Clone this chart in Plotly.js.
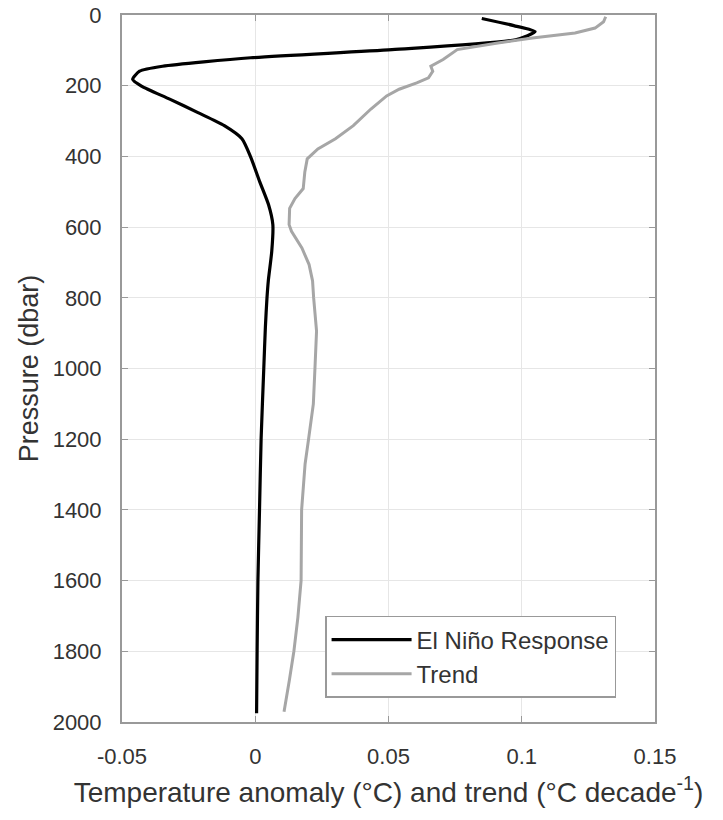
<!DOCTYPE html>
<html>
<head>
<meta charset="utf-8">
<script src="https://cdn.plot.ly/plotly-3.0.1.min.js"></script>
<style>html,body{margin:0;padding:0;background:#fff;}#chart{width:723px;height:820px;}</style>
</head>
<body>
<div id="chart"></div>
<script>
// El Niño response profile
const ninoPressure = [10, 30, 47, 70, 98, 121, 145, 159, 182, 201, 238, 276, 313, 350, 402, 472, 537, 593, 668, 752, 800, 883, 1000, 1200, 1400, 1600, 1800, 1975];
const ninoTemp     = [0.085, 0.097, 0.105, 0.0977, 0.0513, -0.0017, -0.0348, -0.0434, -0.046, -0.0427, -0.0321, -0.0215, -0.0116, -0.005, -0.0017, 0.0017, 0.005, 0.0066, 0.0062, 0.0049, 0.0044, 0.0038, 0.0032, 0.0022, 0.0016, 0.001, 0.0007, 0.0005];
// Trend profile
const trendPressure = [5, 19, 37, 51, 65, 79, 98, 112, 126, 145, 159, 178, 192, 210, 229, 266, 313, 350, 379, 407, 444, 491, 519, 547, 593, 612, 659, 706, 752, 799, 894, 1000, 1100, 1200, 1270, 1400, 1600, 1704, 1800, 1882, 1971];
const trendTemp     = [0.1315, 0.1307, 0.1275, 0.120, 0.104, 0.091, 0.0758, 0.073, 0.0705, 0.0659, 0.0666, 0.065, 0.0606, 0.054, 0.0493, 0.0434, 0.0368, 0.0301, 0.0235, 0.0195, 0.0186, 0.018, 0.0149, 0.0129, 0.0127, 0.0136, 0.0175, 0.0202, 0.0215, 0.0219, 0.023, 0.0224, 0.0218, 0.020, 0.0187, 0.0174, 0.0172, 0.016, 0.0145, 0.0128, 0.0108];
const xTicks = [-0.05, 0, 0.05, 0.1, 0.15];
const xTickText = ['-0.05', '0', '0.05', '0.1', '0.15'];
const yTicks = [0, 200, 400, 600, 800, 1000, 1200, 1400, 1600, 1800, 2000];
const seriesNames = ['El Niño Response', 'Trend'];

const font = 'Liberation Sans, Arial, Helvetica, sans-serif';
const traces = [
  {x: ninoTemp, y: ninoPressure, name: seriesNames[0], mode: 'lines', line: {color: '#000000', width: 3.2, shape: 'spline', smoothing: 0.6}},
  {x: trendTemp, y: trendPressure, name: seriesNames[1], mode: 'lines', line: {color: '#a6a6a6', width: 3}}
];
const axisCommon = {
  showline: true, linecolor: '#999999', linewidth: 2, mirror: 'allticks',
  ticks: 'inside', ticklen: 6, tickcolor: '#999999', tickwidth: 1,
  showgrid: true, gridcolor: '#e6e6e6', gridwidth: 1, zeroline: false,
  tickfont: {family: font, size: 22, color: '#333333'}
};
const layout = {
  width: 723, height: 820,
  margin: {l: 122, r: 68, t: 15, b: 98},
  paper_bgcolor: '#ffffff', plot_bgcolor: '#ffffff',
  showlegend: true,
  font: {family: font, color: '#333333'},
  xaxis: Object.assign({}, axisCommon, {
    range: [-0.05, 0.15], tickvals: xTicks, ticktext: xTickText, ticklabelstandoff: 14,
    title: {text: 'Temperature anomaly (°C) and trend (°C decade<sup>-1</sup>)', font: {family: font, size: 28, color: '#333333'}, standoff: 14}
  }),
  yaxis: Object.assign({}, axisCommon, {
    range: [2000, 0], tickvals: yTicks, ticklabelstandoff: 14,
    title: {text: 'Pressure (dbar)', font: {family: font, size: 27, color: '#333333'}, standoff: 6}
  }),
  legend: {
    x: 0.381, y: 0.034, xanchor: 'left', yanchor: 'bottom',
    bgcolor: '#ffffff', bordercolor: '#999999', borderwidth: 1.5,
    font: {family: font, size: 24, color: '#333333'},
    itemwidth: 80, tracegroupgap: 0
  }
};
Plotly.newPlot('chart', traces, layout, {displayModeBar: false, staticPlot: true});
</script>
</body>
</html>
